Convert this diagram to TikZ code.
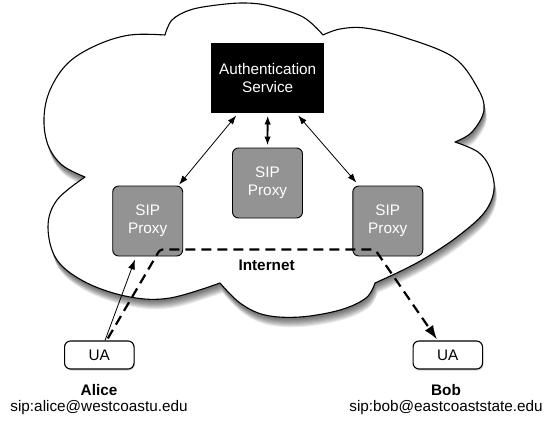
\documentclass[tikz,border=0pt]{standalone}
\usepackage{fontspec}
\setmainfont{Liberation Sans}
\usetikzlibrary{arrows.meta,calc,shadows}
\begin{document}
\def\cloudpath{(165,35)
 -- plot[smooth,tension=0.6] coordinates {(165,35) (172,20) (190,10) (217,5) (245,3) (270,6) (303,17) (323,35)}
 -- plot[smooth,tension=0.6] coordinates {(323,35) (340,29) (365,28) (403,37) (453,57) (477,87) (484,110) (472,132) (455,142)}
 -- plot[smooth,tension=0.6] coordinates {(455,142) (478,152) (490,168) (494,190) (484,213) (457,237) (427,257) (403,270) (375,283)}
 -- plot[smooth,tension=0.6] coordinates {(375,283) (366,298) (340,310) (300,317) (265,315) (240,303) (220,283)}
 -- plot[smooth,tension=0.6] coordinates {(220,283) (170,298) (130,297) (87,283) (57,260) (48,227) (57,200) (85,177)}
 -- plot[smooth,tension=0.6] coordinates {(85,177) (62,165) (48,145) (44,118) (50,90) (68,63) (97,45) (130,35) (165,35)}
 -- cycle}
\begin{tikzpicture}[x=1pt,y=-1pt,
  txt/.style={font=\fontsize{15.3}{18}\selectfont},
  authbox/.style={txt,rectangle,fill=black,text=white,minimum width=112.5pt,minimum height=70.6pt,align=center,inner sep=0pt},
  proxybox/.style={txt,rectangle,rounded corners=6pt,draw=black,line width=0.9pt,fill=gray!85!white,text=white,minimum width=70pt,minimum height=70pt,align=center,inner sep=0pt},
  uabox/.style={txt,rectangle,rounded corners=6pt,draw=black,line width=1.1pt,fill=white,minimum width=69.5pt,minimum height=28pt,inner sep=0pt,
     drop shadow={shadow xshift=0.8pt,shadow yshift=-1.5pt,opacity=0.35}},
  lbl/.style={txt,inner sep=0pt},
  biarrow/.style={line width=0.8pt,{Latex[length=9pt,width=6.5pt]}-{Latex[length=9pt,width=6.5pt]}},
  onearrow/.style={line width=0.8pt,-{Latex[length=10pt,width=7pt]}},
  dashpath/.style={line width=2.2pt,dash pattern=on 10pt off 6pt,rounded corners=3pt,-{Latex[length=14pt,width=10pt]}}
]
\useasboundingbox (0,0) rectangle (546,423);
% cloud shadow
\foreach \i in {1,...,9}{
  \begin{scope}[shift={(0.3*\i,1.1*\i)}]
    \fill[black,opacity=0.085] \cloudpath;
  \end{scope}
}
\fill[white] \cloudpath;
\draw[line width=1.1pt,line join=round] \cloudpath;

% nodes
\node[authbox] (auth) at (267.7,78) {Authentication\\Service};
\node[proxybox] (cp) at (267.5,183) {SIP\\Proxy};
\node[proxybox] (lp) at (147.7,221) {SIP\\Proxy};
\node[proxybox] (rp) at (387.8,221) {SIP\\Proxy};
\node[uabox] (la) at (99.3,355) {UA};
\node[uabox] (ra) at (447.8,355) {UA};

\node[lbl,font=\fontsize{15.3}{18}\selectfont\bfseries] (inet) at (266.6,265) {Internet};
\node[lbl,font=\fontsize{15.3}{18}\selectfont\bfseries] (alice) at (99,390) {Alice};
\node[lbl] (aliceaddr) at (99,408) {sip:alice@westcoastu.edu};
\node[lbl,font=\fontsize{15.3}{18}\selectfont\bfseries] (bob) at (446,390) {Bob};
\node[lbl] (bobaddr) at (446,408) {sip:bob@eastcoaststate.edu};

% connectors
\draw[biarrow] ([xshift=25pt,yshift=-2pt]auth.south west) -- ([xshift=-4pt,yshift=1pt]lp.north east);
\draw[biarrow,line width=1.8pt] ([yshift=-2pt]auth.south) -- ([yshift=2pt]cp.north);
\draw[biarrow] ([xshift=-26pt,yshift=-2pt]auth.south east) -- ([xshift=4pt,yshift=3pt]rp.north west);
\draw[onearrow] ([xshift=5.7pt]la.north) -- ([xshift=-12.7pt,yshift=-3pt]lp.south);

\coordinate (c1) at ([xshift=12.3pt,yshift=7pt]lp.south);
\coordinate (c2) at ([xshift=-12.8pt,yshift=7pt]rp.south);
\draw[dashpath] ([xshift=8.5pt,yshift=2pt]la.north) -- (c1) -- (c2) -- ([xshift=-10.8pt,yshift=1pt]ra.north);
\end{tikzpicture}
\end{document}
